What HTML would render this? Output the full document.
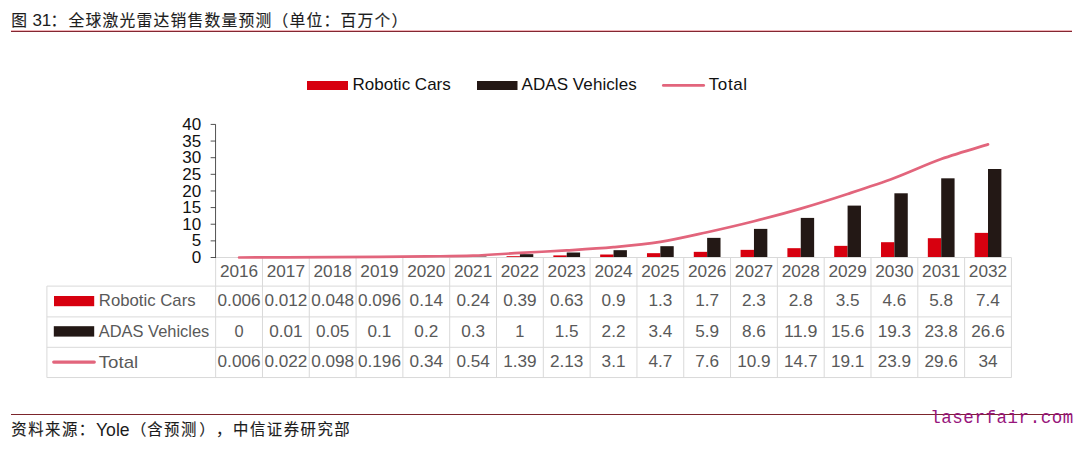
<!DOCTYPE html>
<html lang="zh-CN"><head><meta charset="utf-8"><title>图 31：全球激光雷达销售数量预测</title>
<style>html,body{margin:0;padding:0;background:#fff}svg{display:block}text{white-space:pre}</style></head><body>
<svg width="1080" height="449" viewBox="0 0 1080 449">
<rect width="1080" height="449" fill="#fff"/>
<g font-family='"Liberation Sans", "Noto Sans CJK SC", sans-serif' fill="#1c1c1c" stroke="#1c1c1c" stroke-width="0.14">
<text y="25.8" font-size="15.8" letter-spacing="1.2"><tspan x="11.2">图 </tspan><tspan x="32.4" y="26" font-size="17" letter-spacing="0" stroke="none">31</tspan><tspan x="50.4" y="25.8">：</tspan><tspan x="68.6">全球激光雷达销售数量预测（单位：百万个）</tspan></text>
</g>
<rect x="11" y="30" width="1061" height="1" fill="#f0b4b9"/><rect x="11" y="31" width="1061" height="1" fill="#842631"/>
<rect x="307" y="81" width="41" height="9" fill="#d7000f"/>
<rect x="477" y="81" width="40.5" height="9" fill="#231815"/>
<line x1="663.3" y1="85.4" x2="703.7" y2="85.4" stroke="#e2657c" stroke-width="2.7" stroke-linecap="round"/>
<g font-family='"Liberation Sans", sans-serif' font-size="17" fill="#111">
<text x="352.5" y="90.3">Robotic Cars</text>
<text x="521.5" y="90.3" textLength="115.2" lengthAdjust="spacing">ADAS Vehicles</text>
<text x="708.7" y="90.3" textLength="38.4" lengthAdjust="spacing">Total</text>
</g>
<g stroke="#d9d9d9" stroke-width="1" fill="none">
<line x1="215.65" y1="257.5" x2="1011.42" y2="257.5"/>
<line x1="46.9" y1="286.1" x2="1011.42" y2="286.1"/>
<line x1="46.9" y1="316.9" x2="1011.42" y2="316.9"/>
<line x1="46.9" y1="347.3" x2="1011.42" y2="347.3"/>
<line x1="46.9" y1="377.55" x2="1011.42" y2="377.55"/>
<line x1="46.9" y1="286.1" x2="46.9" y2="377.55"/>
<line x1="215.65" y1="257.5" x2="215.65" y2="377.55"/>
<line x1="262.46" y1="257.5" x2="262.46" y2="377.55"/>
<line x1="309.27" y1="257.5" x2="309.27" y2="377.55"/>
<line x1="356.08" y1="257.5" x2="356.08" y2="377.55"/>
<line x1="402.89" y1="257.5" x2="402.89" y2="377.55"/>
<line x1="449.7" y1="257.5" x2="449.7" y2="377.55"/>
<line x1="496.51" y1="257.5" x2="496.51" y2="377.55"/>
<line x1="543.32" y1="257.5" x2="543.32" y2="377.55"/>
<line x1="590.13" y1="257.5" x2="590.13" y2="377.55"/>
<line x1="636.94" y1="257.5" x2="636.94" y2="377.55"/>
<line x1="683.75" y1="257.5" x2="683.75" y2="377.55"/>
<line x1="730.56" y1="257.5" x2="730.56" y2="377.55"/>
<line x1="777.37" y1="257.5" x2="777.37" y2="377.55"/>
<line x1="824.18" y1="257.5" x2="824.18" y2="377.55"/>
<line x1="870.99" y1="257.5" x2="870.99" y2="377.55"/>
<line x1="917.8" y1="257.5" x2="917.8" y2="377.55"/>
<line x1="964.61" y1="257.5" x2="964.61" y2="377.55"/>
<line x1="1011.42" y1="257.5" x2="1011.42" y2="377.55"/>
</g>
<g stroke="#333" stroke-width="0.85" fill="none">
<line x1="215.55" y1="124.42" x2="215.55" y2="257.9"/>
<line x1="210.65" y1="257.5" x2="215.65" y2="257.5"/>
<line x1="210.65" y1="240.87" x2="215.65" y2="240.87"/>
<line x1="210.65" y1="224.23" x2="215.65" y2="224.23"/>
<line x1="210.65" y1="207.59" x2="215.65" y2="207.59"/>
<line x1="210.65" y1="190.96" x2="215.65" y2="190.96"/>
<line x1="210.65" y1="174.32" x2="215.65" y2="174.32"/>
<line x1="210.65" y1="157.69" x2="215.65" y2="157.69"/>
<line x1="210.65" y1="141.06" x2="215.65" y2="141.06"/>
<line x1="210.65" y1="124.42" x2="215.65" y2="124.42"/>
</g>
<g font-family='"Liberation Sans", sans-serif' font-size="17" fill="#111" text-anchor="end">
<text x="201.2" y="263.1">0</text>
<text x="201.2" y="246.47">5</text>
<text x="201.2" y="229.83">10</text>
<text x="201.2" y="213.19">15</text>
<text x="201.2" y="196.56">20</text>
<text x="201.2" y="179.92">25</text>
<text x="201.2" y="163.29">30</text>
<text x="201.2" y="146.66">35</text>
<text x="201.2" y="130.02">40</text>
</g>
<g fill="#d7000f">
<rect x="459.73" y="256.7" width="13.37" height="0.3"/>
<rect x="506.54" y="256.2" width="13.37" height="0.8"/>
<rect x="553.35" y="255.4" width="13.37" height="1.6"/>
<rect x="600.16" y="254.51" width="13.37" height="2.49"/>
<rect x="646.97" y="253.17" width="13.37" height="3.83"/>
<rect x="693.78" y="251.84" width="13.37" height="5.16"/>
<rect x="740.59" y="249.85" width="13.37" height="7.15"/>
<rect x="787.4" y="248.18" width="13.37" height="8.82"/>
<rect x="834.21" y="245.86" width="13.37" height="11.14"/>
<rect x="881.02" y="242.2" width="13.37" height="14.8"/>
<rect x="927.83" y="238.2" width="13.37" height="18.8"/>
<rect x="974.64" y="232.88" width="13.37" height="24.12"/>
</g>
<g fill="#231815">
<rect x="426.3" y="256.83" width="13.37" height="0.17"/>
<rect x="473.11" y="256.5" width="13.37" height="0.5"/>
<rect x="519.91" y="254.17" width="13.37" height="2.83"/>
<rect x="566.73" y="252.51" width="13.37" height="4.49"/>
<rect x="613.53" y="250.18" width="13.37" height="6.82"/>
<rect x="660.35" y="246.19" width="13.37" height="10.81"/>
<rect x="707.15" y="237.87" width="13.37" height="19.13"/>
<rect x="753.97" y="228.89" width="13.37" height="28.11"/>
<rect x="800.77" y="217.91" width="13.37" height="39.09"/>
<rect x="847.59" y="205.6" width="13.37" height="51.4"/>
<rect x="894.39" y="193.29" width="13.37" height="63.71"/>
<rect x="941.21" y="178.32" width="13.37" height="78.68"/>
<rect x="988.01" y="169" width="13.37" height="88"/>
</g>
<path d="M239.06,257.48 C246.86,257.47 270.26,257.48 285.87,257.43 C301.47,257.38 317.07,257.27 332.68,257.17 C348.28,257.08 363.88,256.98 379.49,256.85 C395.09,256.71 410.69,256.56 426.3,256.37 C441.9,256.18 457.5,256.29 473.11,255.7 C488.71,255.12 504.31,253.76 519.91,252.88 C535.52,251.99 551.12,251.36 566.73,250.41 C582.33,249.47 597.93,248.61 613.53,247.19 C629.14,245.76 644.74,244.36 660.35,241.86 C675.95,239.37 691.55,235.65 707.15,232.21 C722.76,228.78 738.36,225.17 753.97,221.24 C769.57,217.3 785.17,213.14 800.77,208.59 C816.38,204.05 831.98,199.06 847.59,193.95 C863.19,188.85 878.79,183.81 894.39,177.98 C910,172.16 925.6,164.62 941.21,159.02 C956.81,153.42 980.21,146.82 988.01,144.38" fill="none" stroke="#e2657c" stroke-width="2.7" stroke-linecap="round" stroke-linejoin="round"/>
<g font-family='"Liberation Sans", sans-serif' font-size="16.4" fill="#595959" text-anchor="middle">
<text x="239.06" y="276.9" textLength="38.24" lengthAdjust="spacingAndGlyphs">2016</text>
<text x="285.87" y="276.9" textLength="38.24" lengthAdjust="spacingAndGlyphs">2017</text>
<text x="332.68" y="276.9" textLength="38.24" lengthAdjust="spacingAndGlyphs">2018</text>
<text x="379.49" y="276.9" textLength="38.24" lengthAdjust="spacingAndGlyphs">2019</text>
<text x="426.3" y="276.9" textLength="38.24" lengthAdjust="spacingAndGlyphs">2020</text>
<text x="473.11" y="276.9" textLength="38.24" lengthAdjust="spacingAndGlyphs">2021</text>
<text x="519.91" y="276.9" textLength="38.24" lengthAdjust="spacingAndGlyphs">2022</text>
<text x="566.73" y="276.9" textLength="38.24" lengthAdjust="spacingAndGlyphs">2023</text>
<text x="613.53" y="276.9" textLength="38.24" lengthAdjust="spacingAndGlyphs">2024</text>
<text x="660.35" y="276.9" textLength="38.24" lengthAdjust="spacingAndGlyphs">2025</text>
<text x="707.15" y="276.9" textLength="38.24" lengthAdjust="spacingAndGlyphs">2026</text>
<text x="753.97" y="276.9" textLength="38.24" lengthAdjust="spacingAndGlyphs">2027</text>
<text x="800.77" y="276.9" textLength="38.24" lengthAdjust="spacingAndGlyphs">2028</text>
<text x="847.59" y="276.9" textLength="38.24" lengthAdjust="spacingAndGlyphs">2029</text>
<text x="894.39" y="276.9" textLength="38.24" lengthAdjust="spacingAndGlyphs">2030</text>
<text x="941.21" y="276.9" textLength="38.24" lengthAdjust="spacingAndGlyphs">2031</text>
<text x="988.01" y="276.9" textLength="38.24" lengthAdjust="spacingAndGlyphs">2032</text>
<text x="239.06" y="306.3" textLength="42.99" lengthAdjust="spacingAndGlyphs">0.006</text>
<text x="285.87" y="306.3" textLength="42.99" lengthAdjust="spacingAndGlyphs">0.012</text>
<text x="332.68" y="306.3" textLength="42.99" lengthAdjust="spacingAndGlyphs">0.048</text>
<text x="379.49" y="306.3" textLength="42.99" lengthAdjust="spacingAndGlyphs">0.096</text>
<text x="426.3" y="306.3" textLength="33.43" lengthAdjust="spacingAndGlyphs">0.14</text>
<text x="473.11" y="306.3" textLength="33.43" lengthAdjust="spacingAndGlyphs">0.24</text>
<text x="519.91" y="306.3" textLength="33.43" lengthAdjust="spacingAndGlyphs">0.39</text>
<text x="566.73" y="306.3" textLength="33.43" lengthAdjust="spacingAndGlyphs">0.63</text>
<text x="613.53" y="306.3" textLength="23.87" lengthAdjust="spacingAndGlyphs">0.9</text>
<text x="660.35" y="306.3" textLength="23.87" lengthAdjust="spacingAndGlyphs">1.3</text>
<text x="707.15" y="306.3" textLength="23.87" lengthAdjust="spacingAndGlyphs">1.7</text>
<text x="753.97" y="306.3" textLength="23.87" lengthAdjust="spacingAndGlyphs">2.3</text>
<text x="800.77" y="306.3" textLength="23.87" lengthAdjust="spacingAndGlyphs">2.8</text>
<text x="847.59" y="306.3" textLength="23.87" lengthAdjust="spacingAndGlyphs">3.5</text>
<text x="894.39" y="306.3" textLength="23.87" lengthAdjust="spacingAndGlyphs">4.6</text>
<text x="941.21" y="306.3" textLength="23.87" lengthAdjust="spacingAndGlyphs">5.8</text>
<text x="988.01" y="306.3" textLength="23.87" lengthAdjust="spacingAndGlyphs">7.4</text>
<text x="239.06" y="336.8">0</text>
<text x="285.87" y="336.8" textLength="33.43" lengthAdjust="spacingAndGlyphs">0.01</text>
<text x="332.68" y="336.8" textLength="33.43" lengthAdjust="spacingAndGlyphs">0.05</text>
<text x="379.49" y="336.8" textLength="23.87" lengthAdjust="spacingAndGlyphs">0.1</text>
<text x="426.3" y="336.8" textLength="23.87" lengthAdjust="spacingAndGlyphs">0.2</text>
<text x="473.11" y="336.8" textLength="23.87" lengthAdjust="spacingAndGlyphs">0.3</text>
<text x="519.91" y="336.8">1</text>
<text x="566.73" y="336.8" textLength="23.87" lengthAdjust="spacingAndGlyphs">1.5</text>
<text x="613.53" y="336.8" textLength="23.87" lengthAdjust="spacingAndGlyphs">2.2</text>
<text x="660.35" y="336.8" textLength="23.87" lengthAdjust="spacingAndGlyphs">3.4</text>
<text x="707.15" y="336.8" textLength="23.87" lengthAdjust="spacingAndGlyphs">5.9</text>
<text x="753.97" y="336.8" textLength="23.87" lengthAdjust="spacingAndGlyphs">8.6</text>
<text x="800.77" y="336.8" textLength="33.43" lengthAdjust="spacingAndGlyphs">11.9</text>
<text x="847.59" y="336.8" textLength="33.43" lengthAdjust="spacingAndGlyphs">15.6</text>
<text x="894.39" y="336.8" textLength="33.43" lengthAdjust="spacingAndGlyphs">19.3</text>
<text x="941.21" y="336.8" textLength="33.43" lengthAdjust="spacingAndGlyphs">23.8</text>
<text x="988.01" y="336.8" textLength="33.43" lengthAdjust="spacingAndGlyphs">26.6</text>
<text x="239.06" y="367.2" textLength="42.99" lengthAdjust="spacingAndGlyphs">0.006</text>
<text x="285.87" y="367.2" textLength="42.99" lengthAdjust="spacingAndGlyphs">0.022</text>
<text x="332.68" y="367.2" textLength="42.99" lengthAdjust="spacingAndGlyphs">0.098</text>
<text x="379.49" y="367.2" textLength="42.99" lengthAdjust="spacingAndGlyphs">0.196</text>
<text x="426.3" y="367.2" textLength="33.43" lengthAdjust="spacingAndGlyphs">0.34</text>
<text x="473.11" y="367.2" textLength="33.43" lengthAdjust="spacingAndGlyphs">0.54</text>
<text x="519.91" y="367.2" textLength="33.43" lengthAdjust="spacingAndGlyphs">1.39</text>
<text x="566.73" y="367.2" textLength="33.43" lengthAdjust="spacingAndGlyphs">2.13</text>
<text x="613.53" y="367.2" textLength="23.87" lengthAdjust="spacingAndGlyphs">3.1</text>
<text x="660.35" y="367.2" textLength="23.87" lengthAdjust="spacingAndGlyphs">4.7</text>
<text x="707.15" y="367.2" textLength="23.87" lengthAdjust="spacingAndGlyphs">7.6</text>
<text x="753.97" y="367.2" textLength="33.43" lengthAdjust="spacingAndGlyphs">10.9</text>
<text x="800.77" y="367.2" textLength="33.43" lengthAdjust="spacingAndGlyphs">14.7</text>
<text x="847.59" y="367.2" textLength="33.43" lengthAdjust="spacingAndGlyphs">19.1</text>
<text x="894.39" y="367.2" textLength="33.43" lengthAdjust="spacingAndGlyphs">23.9</text>
<text x="941.21" y="367.2" textLength="33.43" lengthAdjust="spacingAndGlyphs">29.6</text>
<text x="988.01" y="367.2" textLength="19.12" lengthAdjust="spacingAndGlyphs">34</text>
</g>
<rect x="54" y="296" width="40.2" height="10.2" fill="#d7000f"/>
<rect x="53.8" y="326.2" width="40.4" height="10.4" fill="#231815"/>
<line x1="53.7" y1="362.1" x2="94.3" y2="362.1" stroke="#e2657c" stroke-width="3.2" stroke-linecap="round"/>
<g font-family='"Liberation Sans", sans-serif' font-size="16.2" fill="#595959">
<text x="98.8" y="306.3" textLength="96.8" lengthAdjust="spacingAndGlyphs">Robotic Cars</text>
<text x="98.8" y="336.8" textLength="110.5" lengthAdjust="spacingAndGlyphs">ADAS Vehicles</text>
<text x="98.8" y="367.5" textLength="39.4" lengthAdjust="spacingAndGlyphs">Total</text>
</g>
<rect x="11" y="414" width="1061" height="1" fill="#7c252c"/>
<g font-family='"Liberation Sans", "Noto Sans CJK SC", sans-serif' fill="#1c1c1c" stroke="#1c1c1c" stroke-width="0.14">
<text y="435.2" font-size="15.4" letter-spacing="1.5"><tspan x="11.3">资料来源：</tspan><tspan x="96" y="435.5" font-size="17.6" letter-spacing="0" stroke="none">Yole</tspan><tspan x="130.9" y="435.2">（</tspan><tspan x="147.2">含预测</tspan><tspan x="199.2">）</tspan><tspan x="216">，</tspan><tspan x="233">中信证券研究部</tspan></text>
</g>
<text x="930.2" y="423.4" font-family='"Liberation Mono", monospace' font-size="17.5" letter-spacing="0.55" fill="#97157c">laserfair.com</text>
</svg></body></html>
